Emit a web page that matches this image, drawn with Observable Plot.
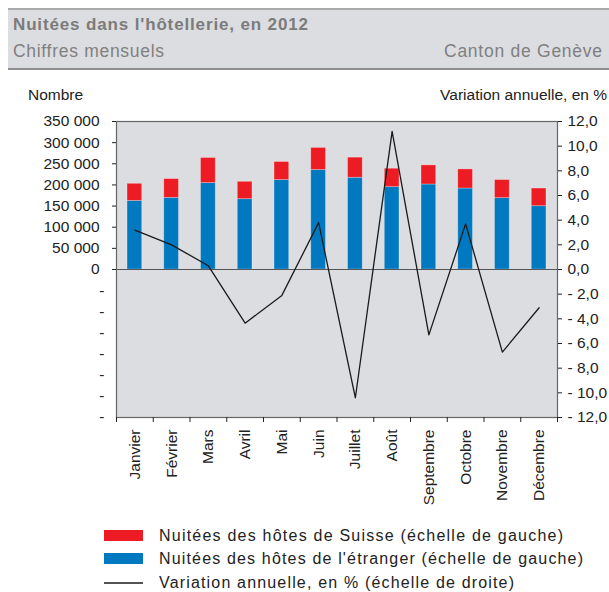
<!DOCTYPE html>
<html>
<head>
<meta charset="utf-8">
<script src="https://cdn.jsdelivr.net/npm/d3@7"></script>
<script src="https://cdn.jsdelivr.net/npm/@observablehq/plot@0.6"></script>
<style>
  body { margin: 0; background: #fff; }
  #wrap { position: relative; width: 609px; height: 592px; overflow: hidden; font-family: "Liberation Sans", Arial, sans-serif; }
  #chart { position: absolute; left: 0; top: 80px; }
  #overlay { position: absolute; left: 0; top: 0; }
</style>
</head>
<body>
<div id="wrap">
  <svg id="overlay" width="609" height="592"></svg>
  <div id="chart"></div>
</div>
<script>
// ---- data ----
const months = ["Janvier","Février","Mars","Avril","Mai","Juin","Juillet","Août","Septembre","Octobre","Novembre","Décembre"];
const etranger = [162300,169400,204300,166300,211500,235200,217000,194800,201000,191500,168700,149700];
const suisse   = [40400, 44400, 59400, 41100, 42700, 52300, 47500, 43500, 45200, 45200, 42800, 41800];
const variation = [3.2, 2.0, 0.3, -4.35, -2.1, 3.8, -10.4, 11.2, -5.3, 3.7, -6.7, -3.1];
const leftTicksPos = [0, 50000, 100000, 150000, 200000, 250000, 300000, 350000];
const leftTicksNeg = [-50000, -100000, -150000, -200000, -250000, -300000, -350000];
const rightTicks = [-12, -10, -8, -6, -4, -2, 0, 2, 4, 6, 8, 10, 12];
const seriesNames = ["Nuitées des hôtes de l'étranger (échelle de gauche)", "Nuitées des hôtes de Suisse (échelle de gauche)"];
const colors = ["#0079c1", "#ed1c24"];

const k = 350000 / 12; // right-axis (%) to left-axis units
const rows = [];
months.forEach((m, i) => rows.push({month: m, origin: seriesNames[0], value: etranger[i]}));
months.forEach((m, i) => rows.push({month: m, origin: seriesNames[1], value: suisse[i]}));
const lineData = months.map((m, i) => ({month: m, pct: variation[i]}));

const fmtLeft = d => d3.format(",")(d).replace(/,/g, " ");
const fmtRight = v => (v < 0 ? "- " + Math.abs(v).toFixed(1) : v.toFixed(1)).replace(".", ",");

const W = 609, mL = 116, mR = 52;
const step = (W - mL - mR) / months.length;

const chart = Plot.plot({
  width: W,
  height: 432,
  marginTop: 41,
  marginBottom: 95,
  marginLeft: mL,
  marginRight: mR,
  style: {fontFamily: "'Liberation Sans', Arial, sans-serif", fontSize: "15.5px", color: "#222", background: "transparent"},
  x: {domain: months, paddingInner: 0.6, paddingOuter: 0.3, round: false, label: null},
  y: {domain: [-350000, 350000], label: null},
  color: {domain: seriesNames, range: colors},
  marks: [
    Plot.frame({fill: "#dcdde0"}),
    Plot.barY(rows, {x: "month", y: "value", fill: "origin", stroke: "#fff", strokeOpacity: 0.35, strokeWidth: 0.8}),
    Plot.ruleY([0], {stroke: "#555", strokeWidth: 1.2}),
    Plot.line(lineData, {x: "month", y: d => d.pct * k, stroke: "#1a1a1a", strokeWidth: 1.3}),
    Plot.frame({stroke: "#666", strokeWidth: 1.2}),
    Plot.axisY(leftTicksPos, {anchor: "left", tickSize: 4, tickPadding: 13, tickFormat: fmtLeft, label: null}),
    Plot.axisY(leftTicksNeg, {anchor: "left", tickSize: 0, tickPadding: 12, tickFormat: () => "-", label: null}),
    Plot.axisY(rightTicks.map(v => v * k), {anchor: "right", tickSize: 4, tickPadding: 6, tickFormat: d => fmtRight(d / k), label: null}),
    Plot.axisX(months, {anchor: "bottom", tickSize: 0, tickPadding: 12, tickRotate: -90, label: null}),
    Plot.axisX(months, {anchor: "bottom", tickSize: 5, tickFormat: () => "", dx: -step / 2, label: null}),
    Plot.axisX([months[months.length - 1]], {anchor: "bottom", tickSize: 5, tickFormat: () => "", dx: step / 2, label: null})
  ]
});
document.getElementById("chart").appendChild(chart);

// ---- header, axis titles, legend ----
const svg = d3.select("#overlay");
const FF = "'Liberation Sans', Arial, sans-serif";
svg.append("rect").attr("x", 8).attr("y", 8).attr("width", 601).attr("height", 61).attr("fill", "#dcdde0");
svg.append("rect").attr("x", 8).attr("y", 8).attr("width", 601).attr("height", 2).attr("fill", "#a9a9a9");
svg.append("rect").attr("x", 8).attr("y", 68).attr("width", 601).attr("height", 2).attr("fill", "#8e8e8e");
svg.append("text").attr("x", 13).attr("y", 30).attr("font-family", FF).attr("font-weight", "bold").attr("font-size", 17)
  .attr("fill", "#7b7b7b").attr("textLength", 295).attr("lengthAdjust", "spacing").text("Nuitées dans l'hôtellerie, en 2012");
svg.append("text").attr("x", 13).attr("y", 57).attr("font-family", FF).attr("font-size", 17.5)
  .attr("fill", "#808080").attr("textLength", 151).attr("lengthAdjust", "spacing").text("Chiffres mensuels");
svg.append("text").attr("x", 444).attr("y", 57).attr("font-family", FF).attr("font-size", 17.5)
  .attr("fill", "#808080").attr("textLength", 158).attr("lengthAdjust", "spacing").text("Canton de Genève");

svg.append("text").attr("x", 28).attr("y", 100).attr("font-family", FF).attr("font-size", 15.5).attr("fill", "#222").text("Nombre");
svg.append("text").attr("x", 607).attr("y", 100).attr("text-anchor", "end").attr("font-family", FF).attr("font-size", 15.5).attr("fill", "#222").text("Variation annuelle, en %");

const legend = [
  {label: seriesNames[1], type: "rect", color: colors[1], y: 530, len: 404},
  {label: seriesNames[0], type: "rect", color: colors[0], y: 553, len: 424},
  {label: "Variation annuelle, en % (échelle de droite)", type: "line", color: "#1a1a1a", y: 583, len: 355}
];
legend.forEach(l => {
  if (l.type === "rect") {
    svg.append("rect").attr("x", 104).attr("y", l.y).attr("width", 39).attr("height", 11).attr("fill", l.color);
    svg.append("text").attr("x", 159).attr("y", l.y + 11).attr("font-family", FF).attr("font-size", 16).attr("fill", "#222")
      .attr("textLength", l.len).attr("lengthAdjust", "spacing").text(l.label);
  } else {
    svg.append("line").attr("x1", 104).attr("x2", 143).attr("y1", l.y).attr("y2", l.y).attr("stroke", l.color).attr("stroke-width", 1.4);
    svg.append("text").attr("x", 159).attr("y", l.y + 5).attr("font-family", FF).attr("font-size", 16).attr("fill", "#222")
      .attr("textLength", l.len).attr("lengthAdjust", "spacing").text(l.label);
  }
});
</script>
</body>
</html>
